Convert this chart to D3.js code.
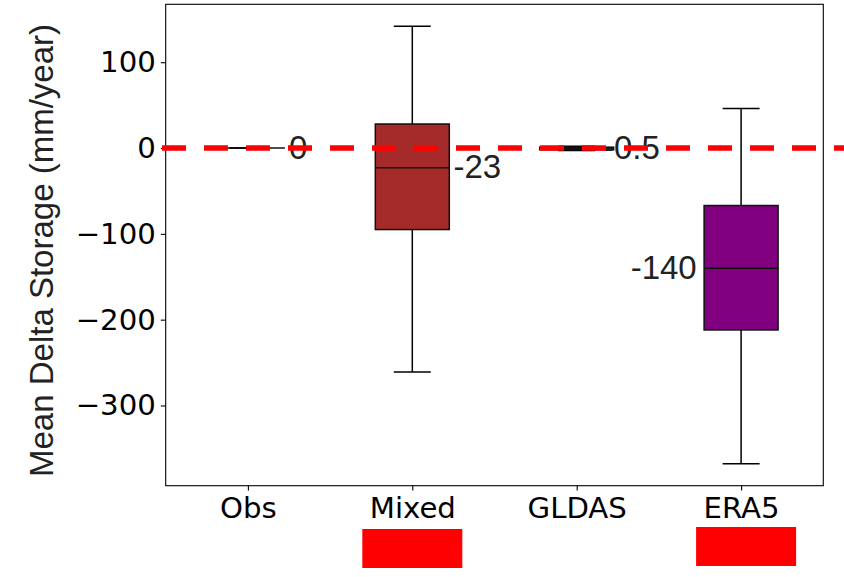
<!DOCTYPE html>
<html>
<head>
<meta charset="utf-8">
<script src="https://cdn.jsdelivr.net/npm/d3@7"></script>
<style>
  body { margin: 0; background: #fff; }
  svg { display: block; }
</style>
</head>
<body>
<svg id="chart" width="844" height="577"></svg>
<script>
// values
let categories = ['Obs', 'Mixed', 'GLDAS', 'ERA5'];
let whiskerLow = [0, -261, -3, -368];
let q1 = [0, -95, -2, -212];
let median = [0, -23, -0.5, -140];
let q3 = [0, 28, 1, -67];
let whiskerHigh = [0, 142, 2, 46];
let boxColors = ['#ffffff', '#a52a2a', '#000000', '#800080'];
let medianLabels = ['0', '-23', '-0.5', '-140'];
let labelPos = [1.25, 2.25, 3.16, 3.73];
let yTicks = [-300, -200, -100, 0, 100];
let flagged = ['Mixed', 'ERA5'];

let plotLeft = 165.7, plotRight = 823.3, plotTop = 4.3, plotBottom = 485.7;
let svg = d3.select('#chart');

let yScale = d3.scaleLinear()
    .domain([-393.5, 167.5])
    .range([plotBottom, plotTop]);

let xScale = d3.scalePoint()
    .domain(categories)
    .range([plotLeft, plotRight])
    .padding(0.5);

let step = xScale.step();
let xNum = d3.scaleLinear().domain([0.5, 4.5]).range([plotLeft, plotRight]);
let boxW = 0.45 * step;
let capW = boxW / 2;

// axes
let yAxis = svg.append('g')
    .attr('transform', `translate(${plotLeft}, 0)`)
    .call(d3.axisLeft(yScale).tickValues(yTicks).tickSize(4.9).tickPadding(5)
        .tickFormat(d => d < 0 ? '\u2212' + Math.abs(d) : d));
let xAxis = svg.append('g')
    .attr('transform', `translate(0, ${plotBottom})`)
    .call(d3.axisBottom(xScale).tickSize(4.9).tickPadding(7));

[yAxis, xAxis].forEach(function (g) {
    g.select('.domain').remove();
    g.selectAll('line').attr('stroke', '#000').attr('stroke-width', 1.1);
    g.selectAll('text')
        .style('font-family', 'DejaVu Sans')
        .style('font-size', '29.2px')
        .attr('fill', '#000');
});

svg.append('text')
    .attr('transform', 'translate(53, 250.5) rotate(-90)')
    .attr('text-anchor', 'middle')
    .style('font-family', 'Liberation Sans')
    .style('font-size', '33px')
    .attr('fill', '#222')
    .text('Mean Delta Storage (mm/year)');

// boxes
let groups = svg.selectAll('.box')
    .data(categories)
    .enter()
    .append('g')
    .attr('class', 'box');

groups.append('line')
    .attr('x1', c => xScale(c)).attr('x2', c => xScale(c))
    .attr('y1', (c, i) => yScale(q3[i])).attr('y2', (c, i) => yScale(whiskerHigh[i]))
    .attr('stroke', '#000').attr('stroke-width', 1.5);
groups.append('line')
    .attr('x1', c => xScale(c)).attr('x2', c => xScale(c))
    .attr('y1', (c, i) => yScale(q1[i])).attr('y2', (c, i) => yScale(whiskerLow[i]))
    .attr('stroke', '#000').attr('stroke-width', 1.5);
groups.append('line')
    .attr('x1', c => xScale(c) - capW / 2).attr('x2', c => xScale(c) + capW / 2)
    .attr('y1', (c, i) => yScale(whiskerHigh[i])).attr('y2', (c, i) => yScale(whiskerHigh[i]))
    .attr('stroke', '#000').attr('stroke-width', 1.5);
groups.append('line')
    .attr('x1', c => xScale(c) - capW / 2).attr('x2', c => xScale(c) + capW / 2)
    .attr('y1', (c, i) => yScale(whiskerLow[i])).attr('y2', (c, i) => yScale(whiskerLow[i]))
    .attr('stroke', '#000').attr('stroke-width', 1.5);
groups.append('rect')
    .attr('x', c => xScale(c) - boxW / 2)
    .attr('width', boxW)
    .attr('y', (c, i) => yScale(q3[i]))
    .attr('height', (c, i) => yScale(q1[i]) - yScale(q3[i]))
    .attr('fill', (c, i) => boxColors[i])
    .attr('stroke', '#111').attr('stroke-width', 1.5);
groups.append('line')
    .attr('x1', c => xScale(c) - boxW / 2).attr('x2', c => xScale(c) + boxW / 2)
    .attr('y1', (c, i) => yScale(median[i])).attr('y2', (c, i) => yScale(median[i]))
    .attr('stroke', '#111').attr('stroke-width', 1.5);

// median labels
groups.append('text')
    .attr('x', (c, i) => xNum(labelPos[i]))
    .attr('y', (c, i) => yScale(median[i]) + 10.5)
    .attr('text-anchor', (c, i) => labelPos[i] < i + 1 ? 'end' : 'start')
    .style('font-family', 'Liberation Sans')
    .style('font-size', '33px')
    .attr('fill', '#222')
    .text((c, i) => medianLabels[i]);

// frame
svg.append('rect')
    .attr('x', plotLeft).attr('y', plotTop)
    .attr('width', plotRight - plotLeft).attr('height', plotBottom - plotTop)
    .attr('fill', 'none').attr('stroke', '#000').attr('stroke-width', 1.1);

// zero reference line
svg.append('line')
    .attr('x1', 162).attr('x2', 844)
    .attr('y1', yScale(0)).attr('y2', yScale(0))
    .attr('stroke', '#ff0000').attr('stroke-width', 5.5)
    .attr('stroke-dasharray', '24,18');

// red markers under flagged categories
svg.selectAll('.flag')
    .data(flagged)
    .enter()
    .append('rect')
    .attr('class', 'flag')
    .attr('x', c => xScale(c) - 50 + (c === 'ERA5' ? 5 : 0))
    .attr('y', c => c === 'ERA5' ? 527 : 529)
    .attr('width', 100)
    .attr('height', 39)
    .attr('fill', '#ff0000');
</script>
</body>
</html>
